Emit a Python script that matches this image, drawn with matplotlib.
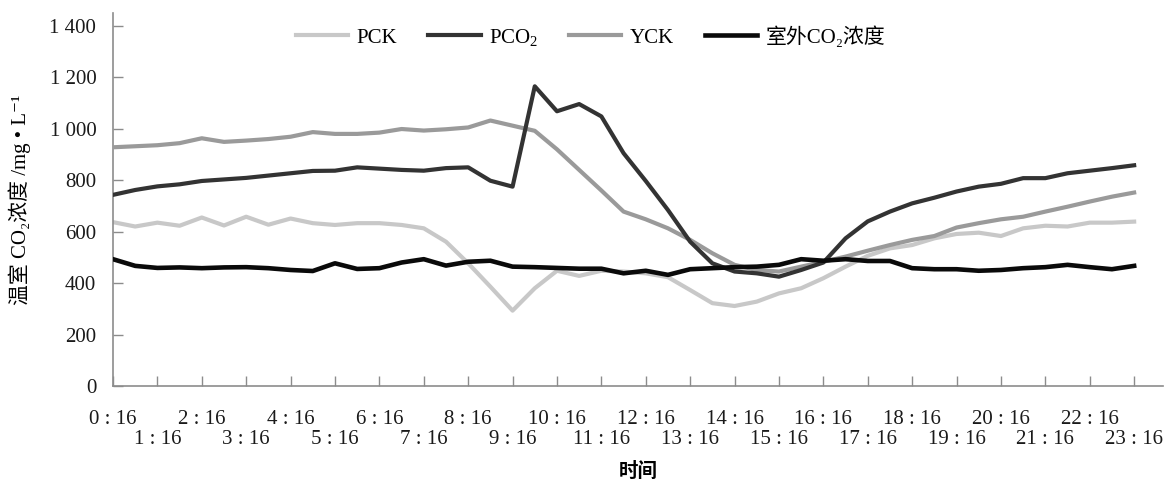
import numpy as np
import matplotlib
matplotlib.use("Agg")
import matplotlib.pyplot as plt

FAM = ['Liberation Serif', 'Noto Sans CJK SC', 'DejaVu Sans']
plt.rcParams['font.family'] = FAM
plt.rcParams['mathtext.fontset'] = 'custom'
plt.rcParams['mathtext.rm'] = 'Liberation Serif'
plt.rcParams['mathtext.it'] = 'Liberation Serif:italic'
plt.rcParams['mathtext.bf'] = 'Liberation Serif:bold'

# half-hourly readings from 0:16 to 23:16
hour_labels = ['0 : 16', '1 : 16', '2 : 16', '3 : 16', '4 : 16', '5 : 16',
               '6 : 16', '7 : 16', '8 : 16', '9 : 16', '10 : 16', '11 : 16',
               '12 : 16', '13 : 16', '14 : 16', '15 : 16', '16 : 16', '17 : 16',
               '18 : 16', '19 : 16', '20 : 16', '21 : 16', '22 : 16', '23 : 16']

pck = [637, 620, 635, 623, 655, 624, 658, 627, 651, 633, 626, 633,
       633, 626, 613, 561, 477, 386, 293, 380, 448, 428, 448, 445,
       438, 423, 373, 322, 311, 328, 360, 380, 419, 464, 506, 535,
       548, 574, 591, 596, 583, 613, 623, 620, 635, 635, 639]

pco2 = [743, 762, 776, 784, 797, 803, 809, 818, 827, 836, 837, 850,
        845, 840, 837, 847, 850, 798, 775, 1165, 1068, 1096, 1048, 905,
        797, 684, 561, 477, 445, 438, 425, 451, 480, 574, 640, 678,
        710, 732, 756, 775, 786, 808, 808, 827, 837, 847, 858]

yck = [928, 932, 936, 944, 963, 949, 954, 960, 969, 987, 980, 980,
       985, 999, 993, 998, 1005, 1032, 1012, 992, 920, 840, 760, 678,
       648, 613, 568, 516, 471, 451, 445, 464, 483, 503, 526, 548,
       568, 583, 616, 633, 648, 658, 678, 697, 717, 736, 752]

outdoor = [493, 467, 459, 461, 458, 461, 462, 458, 451, 447, 477, 455,
           458, 480, 493, 468, 483, 487, 464, 462, 459, 456, 456, 438,
           448, 432, 454, 458, 462, 464, 471, 493, 487, 493, 486, 486,
           458, 454, 454, 448, 451, 458, 462, 471, 462, 454, 467]

series_names = ['PCK', 'PCO$_2$', 'YCK', '室外CO₂浓度']

fig = plt.figure(figsize=(11.64, 4.84), dpi=100)
ax = fig.add_axes([113/1164, 98/484, (1163-113)/1164, (386-13)/484])

x = np.arange(len(pck))
ax.plot(x, pck, color='#c8c8c8', lw=3.0, label=series_names[0], zorder=2)
ax.plot(x, pco2, color='#333333', lw=3.0, label=series_names[1], zorder=4)
ax.plot(x, yck, color='#9a9a9a', lw=3.0, label=series_names[2], zorder=3)
ax.plot(x, outdoor, color='#0a0a0a', lw=3.3, label=series_names[3], zorder=5)

ax.set_xlim(0, 47.3)
ax.set_ylim(0, 1450)

yt = [0, 200, 400, 600, 800, 1000, 1200, 1400]
ax.set_yticks(yt)
ax.set_yticklabels(['0', '200', '400', '600', '800', '1 000', '1 200', '1 400'])

hour_pos = np.arange(len(hour_labels)) * 2
ax.set_xticks(hour_pos[::2])
ax.set_xticklabels(hour_labels[::2])
ax.set_xticks(hour_pos[1::2], minor=True)
ax.set_xticklabels(hour_labels[1::2], minor=True)

for s in ['top', 'right']:
    ax.spines[s].set_visible(False)
for s in ['left', 'bottom']:
    ax.spines[s].set_color('#8c8c8c')
    ax.spines[s].set_linewidth(1.2)

ax.tick_params(axis='y', direction='in', length=7, width=1.0, color='#8c8c8c',
               labelsize=15, pad=12, labelcolor='#1a1a1a')
ax.tick_params(axis='x', which='both', direction='in', length=7, width=1.0,
               color='#8c8c8c', labelsize=15, labelcolor='#1a1a1a')
ax.tick_params(axis='x', which='major', pad=17)
ax.tick_params(axis='x', which='minor', pad=32)

ax.set_xlabel('时间', fontsize=14, fontweight='bold',
              family=['Noto Sans CJK SC', 'DejaVu Sans'])
ax.xaxis.set_label_coords(0.5, -0.205)
ax.set_ylabel('温室 CO₂浓度 /mg • L⁻¹', fontsize=15)
ax.yaxis.set_label_coords(-0.078, 0.5)

leg = ax.legend(loc='upper center', bbox_to_anchor=(0.455, 1.015), ncol=4,
                frameon=False, fontsize=15, handlelength=2.5,
                handletextpad=0.4, columnspacing=1.5)

fig.savefig('out.png', dpi=100)
